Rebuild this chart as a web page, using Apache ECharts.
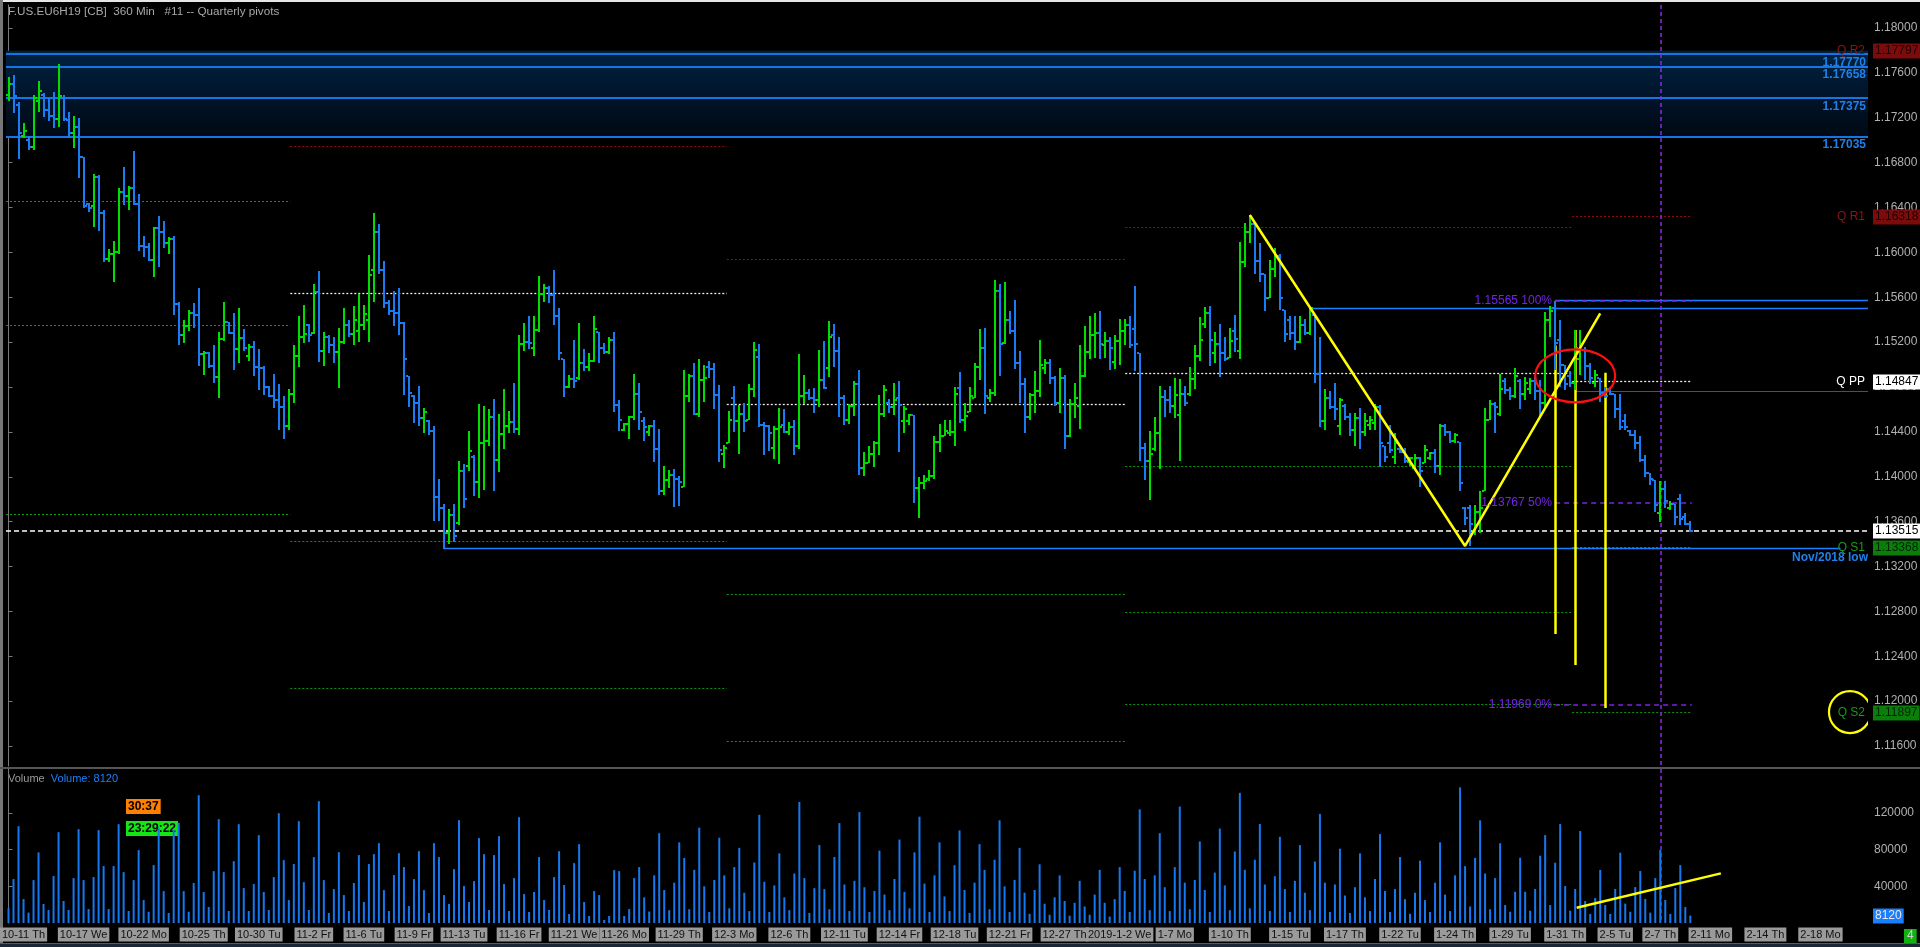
<!DOCTYPE html>
<html>
<head>
<meta charset="utf-8">
<title>F.US.EU6H19 [CB] 360 Min - Quarterly pivots</title>
<script src="https://cdn.jsdelivr.net/npm/echarts@6.0.0/dist/echarts.min.js"></script>
<style>
html,body{margin:0;padding:0;background:#000;overflow:hidden;}
#chart{width:1920px;height:947px;}
</style>
</head>
<body>
<div id="chart"></div>
<script>
// ---------------- DATA ----------------
const opens = [
1.1740,1.1750,1.1731,1.1704,1.1700,1.1694,1.1735,1.1740,1.1727,1.1722,
1.1719,1.1738,1.1718,1.1706,1.1712,1.1685,1.1643,1.1641,1.1667,1.1635,
1.1594,1.1599,1.1600,1.1654,1.1650,1.1657,1.1643,1.1606,1.1605,1.1593,
1.1622,1.1618,1.1608,1.1612,1.1554,1.1526,1.1534,1.1546,1.1544,1.1509,
1.1510,1.1499,1.1489,1.1523,1.1538,1.1528,1.1514,1.1524,1.1508,1.1516,
1.1498,1.1497,1.1480,1.1472,1.1468,1.1462,1.1445,1.1474,1.1508,1.1525,
1.1535,1.1528,1.1565,1.1512,1.1525,1.1517,1.1511,1.1520,1.1535,1.1527,
1.1530,1.1535,1.1540,1.1584,1.1618,1.1584,1.1555,1.1548,1.1546,1.1537,
1.1490,1.1472,1.1466,1.1452,1.1450,1.1441,1.1382,1.1372,1.1350,1.1366,
1.1359,1.1405,1.1410,1.1418,1.1395,1.1430,1.1432,1.1453,1.1415,1.1438,
1.1445,1.1449,1.1443,1.1518,1.1520,1.1515,1.1531,1.1563,1.1568,1.1562,
1.1543,1.1505,1.1480,1.1487,1.1488,1.1501,1.1498,1.1503,1.1529,1.1515,
1.1511,1.1522,1.1464,1.1442,1.1447,1.1453,1.1474,1.1450,1.1440,1.1445,
1.1425,1.1387,1.1397,1.1402,1.1398,1.1391,1.1472,1.1490,1.1456,1.1486,
1.1498,1.1496,1.1473,1.1420,1.1430,1.1470,1.1450,1.1456,1.1451,1.1478,
1.1507,1.1446,1.1445,1.1426,1.1443,1.1446,1.1440,1.1444,1.1427,1.1472,
1.1475,1.1470,1.1468,1.1486,1.1497,1.1526,1.1512,1.1470,1.1451,1.1463,
1.1483,1.1408,1.1412,1.1420,1.1430,1.1456,1.1466,1.1462,1.1470,1.1450,
1.1450,1.1455,1.1390,1.1394,1.1398,1.1401,1.1431,1.1436,1.1439,1.1440,
1.1479,1.1451,1.1458,1.1470,1.1498,1.1515,1.1470,1.1475,1.1566,1.1519,
1.1540,1.1530,1.1501,1.1483,1.1453,1.1473,1.1476,1.1497,1.1501,1.1488,
1.1466,1.1488,1.1436,1.1465,1.1463,1.1490,1.1511,1.1526,1.1528,1.1517,
1.1521,1.1502,1.1521,1.1530,1.1535,1.1532,1.1510,1.1426,1.1414,1.1425,
1.1439,1.1471,1.1468,1.1463,1.1455,1.1474,1.1474,1.1487,1.1508,1.1536,
1.1546,1.1510,1.1518,1.1510,1.1506,1.1530,1.1512,1.1591,1.1618,1.1625,
1.1592,1.1581,1.1559,1.1585,1.1597,1.1549,1.1540,1.1528,1.1520,1.1535,
1.1528,1.1544,1.1492,1.1450,1.1470,1.1462,1.1445,1.1463,1.1453,1.1442,
1.1452,1.1440,1.1446,1.1448,1.1462,1.1427,1.1430,1.1418,1.1425,1.1422,
1.1413,1.1408,1.1417,1.1412,1.1417,1.1421,1.1410,1.1445,1.1440,1.1432,
1.1431,1.1372,1.1372,1.1352,1.1369,1.1387,1.1451,1.1465,1.1456,1.1485,
1.1477,1.1472,1.1485,1.1474,1.1478,1.1485,1.1476,1.1466,1.1540,1.1550,
1.1522,1.1500,1.1490,1.1484,1.1505,1.1513,1.1499,1.1484,1.1488,1.1475,
1.1478,1.1474,1.1460,1.1450,1.1441,1.1437,1.1430,1.1415,1.1403,1.1397,
1.1368,1.1389,1.1372,1.1376,1.1380,1.1364,1.1358];
const highs = [
1.1756,1.1758,1.1734,1.1715,1.1704,1.1740,1.1753,1.1742,1.1738,1.1743,
1.1768,1.1740,1.1725,1.1722,1.1720,1.1685,1.1644,1.1670,1.1669,1.1638,
1.1603,1.1610,1.1657,1.1676,1.1659,1.1690,1.1652,1.1615,1.1608,1.1623,
1.1632,1.1628,1.1614,1.1615,1.1556,1.1540,1.1549,1.1555,1.1568,1.1512,
1.1511,1.1517,1.1529,1.1556,1.1538,1.1546,1.1550,1.1532,1.1518,1.1521,
1.1514,1.1499,1.1481,1.1492,1.1483,1.1472,1.1478,1.1517,1.1543,1.1553,
1.1536,1.1572,1.1583,1.1529,1.1526,1.1525,1.1533,1.1550,1.1540,1.1552,
1.1563,1.1553,1.1598,1.1635,1.1625,1.1592,1.1558,1.1566,1.1568,1.1538,
1.1490,1.1473,1.1481,1.1461,1.1451,1.1445,1.1398,1.1376,1.1371,1.1376,
1.1414,1.1411,1.1441,1.1419,1.1465,1.1463,1.1460,1.1469,1.1456,1.1478,
1.1459,1.1484,1.1526,1.1537,1.1543,1.1543,1.1579,1.1572,1.1570,1.1584,
1.1550,1.1505,1.1491,1.1522,1.1537,1.1514,1.1510,1.1543,1.1529,1.1519,
1.1525,1.1529,1.1468,1.1448,1.1454,1.1492,1.1484,1.1453,1.1446,1.1451,
1.1443,1.1410,1.1406,1.1407,1.1401,1.1495,1.1492,1.1501,1.1505,1.1500,
1.1503,1.1501,1.1482,1.1428,1.1459,1.1481,1.1464,1.1466,1.1483,1.1520,
1.1518,1.1449,1.1446,1.1445,1.1461,1.1460,1.1449,1.1451,1.1509,1.1491,
1.1478,1.1479,1.1513,1.1521,1.1539,1.1536,1.1525,1.1473,1.1465,1.1485,
1.1495,1.1422,1.1427,1.1432,1.1473,1.1482,1.1469,1.1484,1.1485,1.1463,
1.1456,1.1455,1.1400,1.1402,1.1406,1.1436,1.1447,1.1451,1.1451,1.1480,
1.1493,1.1466,1.1480,1.1501,1.1532,1.1533,1.1478,1.1575,1.1572,1.1574,
1.1548,1.1558,1.1512,1.1488,1.1475,1.1494,1.1522,1.1505,1.1505,1.1490,
1.1497,1.1491,1.1469,1.1484,1.1517,1.1534,1.1543,1.1546,1.1548,1.1529,
1.1525,1.1526,1.1541,1.1541,1.1543,1.1570,1.1510,1.1430,1.1441,1.1453,
1.1481,1.1477,1.1481,1.1488,1.1487,1.1481,1.1498,1.1517,1.1542,1.1551,
1.1552,1.1529,1.1536,1.1525,1.1533,1.1544,1.1609,1.1626,1.1633,1.1626,
1.1608,1.1581,1.1593,1.1604,1.1599,1.1549,1.1543,1.1543,1.1543,1.1541,
1.1551,1.1544,1.1525,1.1478,1.1476,1.1484,1.1470,1.1465,1.1457,1.1457,
1.1461,1.1457,1.1454,1.1465,1.1464,1.1427,1.1446,1.1439,1.1426,1.1426,
1.1418,1.1420,1.1418,1.1428,1.1422,1.1425,1.1447,1.1447,1.1441,1.1439,
1.1431,1.1373,1.1375,1.1375,1.1387,1.1461,1.1468,1.1467,1.1492,1.1488,
1.1480,1.1497,1.1487,1.1489,1.1488,1.1489,1.1486,1.1547,1.1552,1.15565,
1.1540,1.1500,1.1494,1.1531,1.1531,1.1516,1.1501,1.1495,1.1488,1.1480,
1.1480,1.1474,1.1474,1.1456,1.1442,1.1442,1.1436,1.1419,1.1403,1.1397,
1.1396,1.1396,1.1378,1.1376,1.1385,1.1368,1.1361];
const lows = [
1.1735,1.1724,1.1683,1.1702,1.1691,1.1691,1.1725,1.1721,1.1717,1.1711,
1.1712,1.1717,1.1702,1.1693,1.1666,1.1640,1.1636,1.1623,1.1619,1.1591,
1.1591,1.1574,1.1599,1.1642,1.1638,1.1642,1.1601,1.1596,1.1592,1.1578,
1.1587,1.1604,1.1599,1.1544,1.1517,1.1519,1.1530,1.1533,1.1499,1.1491,
1.1497,1.1484,1.1470,1.1521,1.1527,1.1495,1.1501,1.1512,1.1503,1.1490,
1.1477,1.1473,1.1471,1.1461,1.1442,1.1434,1.1442,1.1466,1.1498,1.1519,
1.1520,1.1527,1.1502,1.1499,1.1510,1.1501,1.1479,1.1518,1.1525,1.1517,
1.1520,1.1531,1.1520,1.1556,1.1581,1.1550,1.1544,1.1534,1.1526,1.1473,
1.1462,1.1448,1.1445,1.1439,1.1437,1.1361,1.1361,1.1336,1.1340,1.1342,
1.1357,1.1372,1.1405,1.1383,1.1381,1.1388,1.1427,1.1387,1.1404,1.1425,
1.1439,1.1439,1.1437,1.1512,1.1514,1.1508,1.1529,1.1556,1.1555,1.1535,
1.1504,1.1471,1.1479,1.1479,1.1486,1.1494,1.1494,1.1502,1.1501,1.1509,
1.1509,1.1458,1.1441,1.1441,1.1434,1.1451,1.1442,1.1432,1.1436,1.1413,
1.1384,1.1384,1.1390,1.1373,1.1374,1.1391,1.1467,1.1455,1.1453,1.1467,
1.1488,1.1460,1.1413,1.1408,1.1430,1.1440,1.1420,1.1440,1.1451,1.1471,
1.1444,1.1419,1.1423,1.1416,1.1411,1.1439,1.1437,1.1419,1.1425,1.1465,
1.1468,1.1457,1.1462,1.1478,1.1489,1.1498,1.1453,1.1446,1.1447,1.1454,
1.1402,1.1401,1.1412,1.1409,1.1419,1.1453,1.1457,1.1455,1.1422,1.1439,
1.1446,1.1377,1.1363,1.1389,1.1396,1.1398,1.1422,1.1436,1.1436,1.1427,
1.1448,1.1441,1.1458,1.1470,1.1486,1.1456,1.1467,1.1472,1.1490,1.1518,
1.1527,1.1496,1.1466,1.1439,1.1451,1.1457,1.1471,1.1492,1.1483,1.1463,
1.1457,1.1425,1.1435,1.1452,1.1443,1.1489,1.1505,1.1506,1.1505,1.1506,
1.1495,1.1496,1.1500,1.1517,1.1515,1.1494,1.1414,1.1397,1.1379,1.1423,
1.1407,1.1453,1.1457,1.1452,1.1414,1.1463,1.1472,1.1478,1.1503,1.1533,
1.1499,1.1501,1.1489,1.1503,1.1506,1.1511,1.1505,1.1587,1.1608,1.1581,
1.1574,1.1548,1.1559,1.1578,1.1549,1.1520,1.1522,1.1513,1.1519,1.1526,
1.1526,1.1484,1.1444,1.1442,1.1460,1.1451,1.1437,1.1451,1.1436,1.1427,
1.1425,1.1436,1.1442,1.1442,1.1409,1.1413,1.1421,1.1411,1.1421,1.1412,
1.1410,1.1406,1.1391,1.1412,1.1415,1.1403,1.1402,1.1436,1.1430,1.1430,
1.1387,1.1357,1.1338,1.1348,1.1350,1.1387,1.1451,1.1439,1.1454,1.1474,
1.1468,1.1470,1.1460,1.1468,1.1474,1.1468,1.1452,1.1460,1.1525,1.1495,
1.1480,1.1477,1.1480,1.1477,1.1491,1.1486,1.1483,1.1480,1.1467,1.1470,
1.1473,1.1452,1.1442,1.1442,1.1436,1.1425,1.1413,1.1400,1.1393,1.1369,
1.1360,1.1372,1.1370,1.1357,1.1357,1.1357,1.1351];
const closes = [
1.1750,1.1739,1.1706,1.1708,1.1694,1.1738,1.1744,1.1727,1.1722,1.1719,
1.1739,1.1719,1.1706,1.1712,1.1685,1.1641,1.1640,1.1667,1.1635,1.1594,
1.1599,1.1600,1.1654,1.1650,1.1657,1.1643,1.1606,1.1605,1.1593,1.1622,
1.1618,1.1608,1.1612,1.1554,1.1526,1.1534,1.1546,1.1544,1.1509,1.1510,
1.1499,1.1489,1.1523,1.1538,1.1528,1.1514,1.1524,1.1515,1.1516,1.1498,
1.1497,1.1480,1.1472,1.1468,1.1462,1.1445,1.1474,1.1508,1.1525,1.1527,
1.1526,1.1565,1.1512,1.1525,1.1517,1.1511,1.1520,1.1535,1.1527,1.1540,
1.1535,1.1545,1.1580,1.1618,1.1584,1.1555,1.1548,1.1546,1.1537,1.1505,
1.1475,1.1466,1.1452,1.1458,1.1441,1.1382,1.1372,1.1350,1.1366,1.1347,
1.1405,1.1380,1.1423,1.1395,1.1430,1.1432,1.1453,1.1415,1.1438,1.1445,
1.1449,1.1443,1.1518,1.1520,1.1519,1.1531,1.1563,1.1568,1.1562,1.1543,
1.1510,1.1480,1.1487,1.1485,1.1501,1.1498,1.1503,1.1532,1.1515,1.1511,
1.1522,1.1464,1.1451,1.1447,1.1453,1.1474,1.1458,1.1444,1.1445,1.1425,
1.1387,1.1397,1.1402,1.1398,1.1395,1.1472,1.1490,1.1456,1.1486,1.1488,
1.1496,1.1473,1.1424,1.1426,1.1451,1.1450,1.1456,1.1450,1.1478,1.1513,
1.1446,1.1445,1.1439,1.1443,1.1444,1.1440,1.1444,1.1427,1.1472,1.1475,
1.1470,1.1468,1.1486,1.1479,1.1525,1.1512,1.1470,1.1451,1.1463,1.1483,
1.1408,1.1412,1.1420,1.1430,1.1456,1.1477,1.1462,1.1468,1.1464,1.1460,
1.1455,1.1390,1.1394,1.1396,1.1401,1.1431,1.1436,1.1441,1.1440,1.1474,
1.1451,1.1454,1.1472,1.1498,1.1515,1.1472,1.1475,1.1566,1.1518,1.1540,
1.1530,1.1501,1.1483,1.1453,1.1473,1.1476,1.1500,1.1501,1.1488,1.1466,
1.1488,1.1436,1.1465,1.1470,1.1490,1.1511,1.1526,1.1528,1.1518,1.1521,
1.1515,1.1521,1.1530,1.1535,1.1517,1.1518,1.1426,1.1414,1.1420,1.1439,
1.1471,1.1468,1.1463,1.1473,1.1474,1.1466,1.1487,1.1508,1.1522,1.1546,
1.1522,1.1518,1.1510,1.1505,1.1521,1.1523,1.1591,1.1618,1.1625,1.1592,
1.1581,1.1559,1.1585,1.1597,1.1559,1.1527,1.1528,1.1520,1.1535,1.1528,
1.1550,1.1492,1.1450,1.1470,1.1462,1.1460,1.1468,1.1453,1.1442,1.1452,
1.1440,1.1450,1.1451,1.1462,1.1430,1.1418,1.1424,1.1430,1.1422,1.1414,
1.1417,1.1417,1.1405,1.1424,1.1421,1.1410,1.1445,1.1440,1.1432,1.1437,
1.1394,1.1363,1.1358,1.1369,1.1372,1.1451,1.1465,1.1462,1.1478,1.1477,
1.1472,1.1490,1.1474,1.1484,1.1485,1.1476,1.1466,1.1540,1.1548,1.1519,
1.1500,1.1483,1.1484,1.1515,1.1518,1.1499,1.1488,1.1491,1.1475,1.1472,
1.1474,1.1460,1.1444,1.1444,1.1437,1.1430,1.1415,1.1403,1.1398,1.1375,
1.1389,1.1378,1.1376,1.1364,1.1362,1.1358,1.13515];
const volumes = [
16000,47900,105600,26100,11300,46800,77000,20700,14200,51200,
99100,24000,14200,49000,102400,46800,15200,50100,101300,62100,
15200,62100,107800,55500,13100,46800,79500,25000,12300,63200,
103100,34800,10900,101300,109300,34800,12300,43600,139400,33800,
17400,56600,113300,55500,13100,67500,107800,38100,13100,42500,
95800,33800,14200,50100,119800,68600,25000,64300,111100,44600,
14200,71900,132900,46800,10900,37000,77300,30500,13100,43600,
74100,22900,64300,75100,87100,35900,13100,52300,76200,61000,
18500,47900,78400,35900,10900,87100,71900,30500,20700,58800,
112200,40300,22900,45700,92600,75100,14200,74100,94700,42500,
13100,49000,115400,31600,12000,33800,71900,25000,14200,50100,
78400,41400,9800,65300,86000,22900,7600,34800,30500,3300,
7600,57700,56600,7600,15200,49000,61000,28000,12500,52000,
98000,36000,14000,44000,88000,71000,15000,58000,104000,40000,
12000,47000,93000,52000,16000,61000,82000,33000,13000,66000,
118000,45000,12000,41000,76000,28000,14000,54000,132000,49000,
11000,38000,85000,37000,15000,72000,109000,42000,13000,46000,
121000,39000,12000,35000,79000,31000,14000,48000,91000,34000,
16000,77000,116000,43000,12000,52000,88000,29000,13000,63000,
101000,36000,11000,44000,86000,58000,15000,69000,112000,40000,
12000,47000,82000,33000,10000,36000,64000,21000,9000,28000,
52000,24000,8000,22000,46000,18000,9000,31000,58000,22000,
7000,26000,61000,35000,12000,57000,124000,48000,14000,52000,
98000,39000,13000,61000,127000,44000,15000,47000,89000,36000,
12000,55000,103000,41000,14000,78000,142000,58000,16000,69000,
108000,42000,13000,51000,94000,37000,12000,46000,85000,33000,
14000,67000,119000,44000,12000,42000,81000,30000,11000,39000,
76000,28000,13000,48000,97000,35000,12000,37000,72000,26000,
10000,33000,68000,25000,12000,44000,88000,31000,13000,52000,
148000,62000,18000,71000,112000,54000,15000,49000,87000,19600,
12300,34100,71200,34100,13400,37100,73400,95900,19600,65800,
107900,40300,13400,37100,100300,24000,9800,27200,57800,19600,
9800,37100,76700,21100,12300,39200,56700,26200,11300,49000,
79600,25100,9800,38100,63200,17400,8120];

// time axis labels (bar index -> label)
const dateLabelIdx = [3,15,27,39,50,61,71,81,91,102,113,123,134,145,156,167,178,189,200,211,222,233,244,256,267,278,289,300,311,321,330,340,351,362];
const dateLabels = ['10-11 Th','10-17 We','10-22 Mo','10-25 Th','10-30 Tu','11-2 Fr','11-6 Tu','11-9 Fr','11-13 Tu','11-16 Fr','11-21 We','11-26 Mo','11-29 Th','12-3 Mo','12-6 Th','12-11 Tu','12-14 Fr','12-18 Tu','12-21 Fr','12-27 Th','2019-1-2 We','1-7 Mo','1-10 Th','1-15 Tu','1-17 Th','1-22 Tu','1-24 Th','1-29 Tu','1-31 Th','2-5 Tu','2-7 Th','2-11 Mo','2-14 Th','2-18 Mo'];
const priceTicks = [1.116,1.120,1.124,1.128,1.132,1.136,1.140,1.144,1.148,1.152,1.156,1.160,1.164,1.168,1.172,1.176,1.180];
const volumeTicks = [40000,80000,120000];

// pivot periods (bar index boundaries) and their levels
const periodStart = [-0.5, 56.3, 143.5, 223.1, 312.4];
const periodEnd   = [56.3, 143.5, 223.1, 312.4, 336.3];
const periodR1 = [null, 1.16946, 1.15938, 1.16224, 1.16318];
const periodPP = [null, 1.15635, 1.14646, 1.14922, 1.14847];
const periodS  = [[1.16455,1.15350,1.13665],[1.13425,1.12117],[1.12955,1.11645],[1.14093,1.12794,1.11970],[1.13368,1.11897]];
const qNames  = ['Q R2','Q R1','Q PP','Q S1','Q S2'];
const qValues = [1.17797,1.16318,1.14847,1.13368,1.11897];

// blue resistance zone
const zoneTop = 1.17797, zoneBottom = 1.17035;
const zoneLevels = [1.17770,1.17658,1.17375,1.17035];
// other horizontal blue lines: [fromIndex, toIndex, price]
const blueLines = [[260, 371.5, 1.15505],[309, 371.5, 1.15576]];
const dimBlueLine = [313, 371.5, 1.14760];
const novLow = [87, 366, 1.13360];
// fibonacci projection
const fibValues = [1.15565, 1.13767, 1.11969];
const fibTexts  = ['1.15565 100%','1.13767 50%','1.11969 0%'];
const fibFrom = 309, fibTo = 336.3;
// yellow drawings
const zigzagX = [248, 291, 318];
const zigzagY = [1.16333, 1.13383, 1.15456];
const measureX = [309, 313, 319];
const measureTop = [1.15170, 1.15308, 1.14928];
const measureBottom = [1.12598, 1.12322, 1.11939];
const cursorIndex = 330;
const volTrendX = [313.3, 342.1];
const volTrendY = [16700, 54100];
// ellipses: [centerIndex, centerPrice]
const redEllipse = [313.0, 1.14900];
const yellowCircle = [367.9, 1.11903];

// ---------------- STYLE ----------------
const FONT = '"Liberation Sans", Arial, sans-serif';
const UP = '#00dd00', DOWN = '#1a7cf2';
const X_MIN = -0.5, X_MAX = 371.5;
const P_MIN = 1.114219, P_MAX = 1.18205;
const V_MAX = 168000;

const chart = echarts.init(document.getElementById('chart'), null, {renderer: 'canvas'});

const ohlc = opens.map((o, i) => [i, o, highs[i], lows[i], closes[i]]);
const vol = volumes.map((v, i) => [i, v]);
const lastPrice = closes[closes.length - 1];

function renderBar(params, api) {
  const i = api.value(0), o = api.value(1), h = api.value(2), l = api.value(3), c = api.value(4);
  const pH = api.coord([i, h]), pL = api.coord([i, l]);
  const yO = api.coord([i, o])[1], yC = api.coord([i, c])[1];
  const col = c >= o ? UP : DOWN;
  const x = Math.round(pH[0]);
  const top = Math.round(pH[1]), bot = Math.round(pL[1]);
  return {type: 'group', children: [
    {type: 'rect', shape: {x: x - 1, y: top, width: 2, height: Math.max(2, bot - top)}, style: {fill: col}},
    {type: 'rect', shape: {x: x - 3, y: Math.round(yO) - 1, width: 2, height: 2}, style: {fill: col}},
    {type: 'rect', shape: {x: x + 1, y: Math.round(yC) - 1, width: 2, height: 2}, style: {fill: col}}
  ]};
}

// generic text layer: rows = [text, xIndex, value]
function textLayer(name, rows, st, axisIdx) {
  return {
    type: 'custom', name: name, xAxisIndex: axisIdx || 0, yAxisIndex: axisIdx || 0,
    silent: true, z: 20, clip: false, animation: false,
    data: rows.map(r => [r[1], r[2]]),
    renderItem: function (params, api) {
      const r = rows[params.dataIndex];
      const s = typeof st === 'function' ? st(r, params.dataIndex) : st;
      const p = api.coord([api.value(0), api.value(1)]);
      return {type: 'text', x: Math.round(p[0] + (s.dx || 0)), y: Math.round(p[1] + (s.dy || 0)),
        style: {text: r[0], fill: s.color, font: s.font, align: s.align, verticalAlign: s.va,
          backgroundColor: s.bg, padding: s.pad}};
    }
  };
}

// ---------- horizontal segments ----------
const RED = {color: '#9a0a0a', width: 1, type: [2, 2]};
const WHITE = {color: '#f0f0f0', width: 1.3, type: [2, 2]};
const GREEN = {color: '#0e960e', width: 1, type: [2, 2]};
const BLUE = {color: '#1675e6', width: 2, type: 'solid'};
const BLUE_THIN = {color: '#1a7fff', width: 1.3, type: 'solid'};
const DIMBLUE = {color: '#265a94', width: 1, type: 'solid'};
const CURR = {color: '#ffffff', width: 1.5, type: [5, 3]};
const FIB = {color: '#7a22e6', width: 1.5, type: [5, 4]};
const YEL = {color: '#ffff00', width: 2.5, type: 'solid'};
const PURPLE = {color: '#8a2be2', width: 1.5, type: [4, 3]};

const levelLines = [];
function seg(x0, x1, y, style) { levelLines.push([{coord: [x0, y], lineStyle: style}, {coord: [x1, y]}]); }
for (let k = 0; k < periodStart.length; k++) {
  if (periodR1[k] != null) seg(periodStart[k], periodEnd[k], periodR1[k], RED);
  if (periodPP[k] != null) seg(periodStart[k], periodEnd[k], periodPP[k], WHITE);
  periodS[k].forEach(v => seg(periodStart[k], periodEnd[k], v, GREEN));
}
zoneLevels.forEach(v => seg(X_MIN, X_MAX, v, BLUE));
blueLines.forEach(b => seg(b[0], b[1], b[2], BLUE_THIN));
seg(dimBlueLine[0], dimBlueLine[1], dimBlueLine[2], DIMBLUE);
seg(novLow[0], novLow[1], novLow[2], BLUE_THIN);
fibValues.forEach(v => seg(fibFrom, fibTo, v, FIB));
seg(X_MIN, X_MAX, lastPrice, CURR);

const yellowLines = measureX.map((x, k) => [{coord: [x, measureTop[k]], lineStyle: YEL}, {coord: [x, measureBottom[k]]}]);
yellowLines.push([{coord: [cursorIndex, P_MAX], lineStyle: PURPLE}, {coord: [cursorIndex, P_MIN]}]);

// ---------- text rows ----------
const zoneTextRows = zoneLevels.map(v => [v.toFixed(5), X_MAX, v]);
const novTextRows = [['Nov/2018 low', novLow[1] + 5.5, novLow[2]]];
const qNameRows = qNames.map((n, k) => [n, X_MAX, qValues[k]]);
const qBoxRows = qValues.map(v => [v.toFixed(5), X_MAX, v]);
const lastBoxRows = [[lastPrice.toFixed(5), X_MAX, lastPrice]];
const fibTextRows = fibTexts.map((t, k) => [t, fibFrom - 0.6, fibValues[k]]);
const volBoxRows = [[String(volumes[volumes.length - 1]), X_MAX, volumes[volumes.length - 1]]];

const qColors = ['#8f1515', '#8f1515', '#ffffff', '#199a19', '#199a19'];
const qBoxBg = ['#7c0b0b', '#7c0b0b', '#ffffff', '#0b7d0b', '#0b7d0b'];
const qBoxFg = ['#1c0000', '#1c0000', '#000000', '#002600', '#002600'];

const option = {
  backgroundColor: '#000000',
  animation: false,
  textStyle: {fontFamily: FONT},
  grid: [
    {left: 6, right: 52, top: 5, height: 761, outerBoundsMode: 'none', containLabel: false},
    {left: 6, right: 52, top: 769, height: 154, outerBoundsMode: 'none', containLabel: false}
  ],
  xAxis: [
    {type: 'value', gridIndex: 0, min: X_MIN, max: X_MAX, show: false, splitLine: {show: false}},
    {type: 'value', gridIndex: 1, min: X_MIN, max: X_MAX, splitLine: {show: false},
      axisLine: {show: false}, axisTick: {show: false},
      axisLabel: {
        customValues: dateLabelIdx, margin: 5, showMinLabel: true, showMaxLabel: true,
        formatter: function (v) { const k = dateLabelIdx.indexOf(v); return k < 0 ? '' : '{b|' + dateLabels[k] + '}'; },
        rich: {b: {backgroundColor: '#9a9a9a', color: '#111111', fontSize: 11, fontFamily: FONT, padding: [2, 2, 1, 2], lineHeight: 13}}
      }}
  ],
  yAxis: [
    {type: 'value', gridIndex: 0, position: 'right', min: P_MIN, max: P_MAX, scale: true,
      splitLine: {show: false},
      axisLine: {show: true, lineStyle: {color: '#7a7a7a', width: 1}},
      axisTick: {show: true, customValues: priceTicks, length: 4, lineStyle: {color: '#7a7a7a'}},
      axisLabel: {customValues: priceTicks, color: '#b0b0b0', fontSize: 12, fontFamily: FONT, margin: 6,
        formatter: v => v.toFixed(5)}},
    {type: 'value', gridIndex: 1, position: 'right', min: 0, max: V_MAX,
      splitLine: {show: false},
      axisLine: {show: true, lineStyle: {color: '#7a7a7a', width: 1}},
      axisTick: {show: true, customValues: volumeTicks, length: 4, lineStyle: {color: '#7a7a7a'}},
      axisLabel: {customValues: volumeTicks, color: '#b0b0b0', fontSize: 12, fontFamily: FONT, margin: 6,
        formatter: v => String(v)}}
  ],
  series: [
    {
      type: 'line', name: 'levels', xAxisIndex: 0, yAxisIndex: 0, data: [], z: 1, silent: true,
      markArea: {silent: true, data: [[
        {coord: [X_MIN, zoneTop], itemStyle: {opacity: 1, color: new echarts.graphic.LinearGradient(0, 0, 0, 1, [
          {offset: 0, color: '#00223f'}, {offset: 0.45, color: '#00172e'}, {offset: 1, color: '#000914'}])}},
        {coord: [X_MAX, zoneBottom]}]]},
      markLine: {silent: true, symbol: ['none', 'none'], label: {show: false}, animation: false, data: levelLines}
    },
    {
      type: 'custom', name: 'EU6H19', xAxisIndex: 0, yAxisIndex: 0, z: 5, silent: true,
      data: ohlc, encode: {x: 0, y: [1, 2, 3, 4]}, renderItem: renderBar, clip: true
    },
    {
      type: 'line', name: 'swing', xAxisIndex: 0, yAxisIndex: 0, z: 6, silent: true,
      data: zigzagX.map((x, k) => [x, zigzagY[k]]), symbol: 'none',
      lineStyle: {color: '#ffff00', width: 2.5},
      markLine: {silent: true, symbol: ['none', 'none'], label: {show: false}, animation: false, data: yellowLines}
    },
    {
      type: 'custom', name: 'marks', xAxisIndex: 0, yAxisIndex: 0, z: 7, silent: true, clip: true,
      data: [[redEllipse[0], redEllipse[1]], [yellowCircle[0], yellowCircle[1]]],
      renderItem: function (params, api) {
        const p = api.coord([api.value(0), api.value(1)]);
        const red = params.dataIndex === 0;
        return {type: 'ellipse', shape: {cx: p[0], cy: p[1], rx: red ? 40 : 21, ry: red ? 26.5 : 21},
          style: {fill: 'none', stroke: red ? '#ff1010' : '#ffff00', lineWidth: 2.2}};
      }
    },
    textLayer('zoneText', zoneTextRows, {color: '#1f80ea', font: 'bold 12px ' + FONT, align: 'right', va: 'top', dx: -2, dy: 3}),
    textLayer('novText', novTextRows, {color: '#1f80ea', font: 'bold 12px ' + FONT, align: 'right', va: 'top', dx: 0, dy: 3}),
    textLayer('qNames', qNameRows, (r, k) => ({color: qColors[k], font: '12px ' + FONT, align: 'right', va: 'middle', dx: -3, dy: 0})),
    textLayer('qBoxes', qBoxRows, (r, k) => ({color: qBoxFg[k], bg: qBoxBg[k], pad: [2, 2, 1, 2], font: '12px ' + FONT, align: 'left', va: 'middle', dx: 5, dy: 0})),
    textLayer('lastBox', lastBoxRows, {color: '#000000', bg: '#ffffff', pad: [2, 2, 1, 2], font: '12px ' + FONT, align: 'left', va: 'middle', dx: 5, dy: 0}),
    textLayer('fibText', fibTextRows, {color: '#7424e8', font: '12px ' + FONT, align: 'right', va: 'middle', dx: 0, dy: 0}),
    {
      type: 'bar', name: 'Volume', xAxisIndex: 1, yAxisIndex: 1, data: vol, barWidth: 2, z: 5, silent: true,
      itemStyle: {color: '#1478f0'}, large: false
    },
    {
      type: 'line', name: 'volTrend', xAxisIndex: 1, yAxisIndex: 1, z: 6, silent: true,
      data: volTrendX.map((x, k) => [x, volTrendY[k]]), symbol: 'none',
      lineStyle: {color: '#ffff00', width: 2.5},
      markLine: {silent: true, symbol: ['none', 'none'], label: {show: false}, animation: false,
        data: [[{coord: [cursorIndex, V_MAX], lineStyle: PURPLE}, {coord: [cursorIndex, 0]}]]}
    },
    textLayer('volBox', volBoxRows, {color: '#e8e8e8', bg: '#1a7fff', pad: [2, 2, 1, 2], font: '12px ' + FONT, align: 'left', va: 'middle', dx: 5, dy: 0}, 1)
  ],
  graphic: [
    {type: 'rect', left: 0, top: 0, shape: {width: 1920, height: 2}, style: {fill: '#e6e6e6'}, silent: true},
    {type: 'rect', left: 0, top: 0, shape: {width: 3, height: 947}, style: {fill: '#777777'}, silent: true},
    {type: 'rect', left: 0, top: 767, shape: {width: 1920, height: 2}, style: {fill: '#555555'}, silent: true},
    {type: 'rect', left: 0, top: 943, shape: {width: 1920, height: 1}, style: {fill: '#5a5a5a'}, silent: true},
    {type: 'rect', left: 0, top: 944, shape: {width: 1920, height: 3}, style: {fill: '#1b2736'}, silent: true},
    {type: 'text', left: 8, top: 6, silent: true,
      style: {text: 'F.US.EU6H19 [CB]  360 Min   #11 -- Quarterly pivots', fill: '#a8a8a8', font: '11.7px ' + FONT}},
    {type: 'text', left: 8, top: 773, silent: true,
      style: {text: '{a|Volume}  {b|Volume: 8120}', font: '11px ' + FONT,
        rich: {a: {fill: '#9a9a9a', fontSize: 11, fontFamily: FONT}, b: {fill: '#1a7fff', fontSize: 11, fontFamily: FONT}}}},
    {type: 'text', left: 126, top: 799, silent: true,
      style: {text: '30:37', fill: '#000000', font: 'bold 12px ' + FONT, backgroundColor: '#ff8000', padding: [2, 2, 1, 2]}},
    {type: 'text', left: 126, top: 821, silent: true,
      style: {text: '23:29:22', fill: '#000000', font: 'bold 12px ' + FONT, backgroundColor: '#14e614', padding: [2, 2, 1, 2]}},
    {type: 'text', left: 1904, top: 929, silent: true,
      style: {text: '4', fill: '#cfcfcf', font: '12px ' + FONT, backgroundColor: '#12b012', padding: [1, 3, 1, 3]}}
  ]
};
chart.setOption(option);
</script>
</body>
</html>
